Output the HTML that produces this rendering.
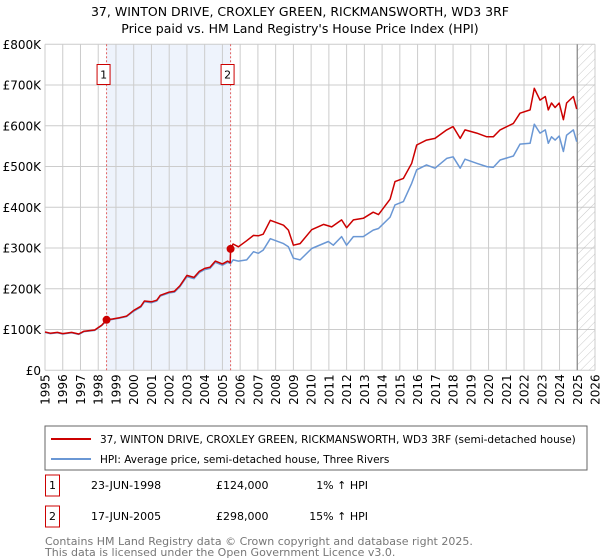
<!DOCTYPE html>
<html><head><meta charset="utf-8"><style>
body{margin:0;background:#fff;font-family:"Liberation Sans","DejaVu Sans",sans-serif;}
svg{display:block}
</style></head><body>
<svg width="600" height="560" viewBox="0 0 600 560" xmlns="http://www.w3.org/2000/svg" font-family="'DejaVu Sans','Liberation Sans',sans-serif">
<defs><pattern id="hatch" width="6" height="6" patternUnits="userSpaceOnUse" patternTransform="rotate(45)"><line x1="0" y1="0" x2="0" y2="6" stroke="#bbb" stroke-width="0.8"/></pattern></defs>
<text x="300" y="16" text-anchor="middle" font-size="12.5" fill="#000">37, WINTON DRIVE, CROXLEY GREEN, RICKMANSWORTH, WD3 3RF</text>
<text x="300" y="33" text-anchor="middle" font-size="12.5" fill="#000">Price paid vs. HM Land Registry's House Price Index (HPI)</text>
<g id="plot"></g>
<rect x="45" y="426" width="542" height="44" fill="#fff" stroke="#666"/>
<line x1="51" y1="439" x2="91" y2="439" stroke="#cc0000" stroke-width="2"/>
<text x="100" y="443" font-size="10.5">37, WINTON DRIVE, CROXLEY GREEN, RICKMANSWORTH, WD3 3RF (semi-detached house)</text>
<line x1="51" y1="459" x2="91" y2="459" stroke="#6a97d4" stroke-width="2"/>
<text x="100" y="463" font-size="10.5">HPI: Average price, semi-detached house, Three Rivers</text>
<g font-size="11">
<rect x="45.5" y="475" width="14" height="21" fill="#fff" stroke="#cc0000"/><text x="52.5" y="489" text-anchor="middle">1</text>
<text x="91" y="489">23-JUN-1998</text><text x="216" y="489">£124,000</text><text x="368" y="489" text-anchor="end">1% ↑ HPI</text>
<rect x="45.5" y="506" width="14" height="21" fill="#fff" stroke="#cc0000"/><text x="52.5" y="520" text-anchor="middle">2</text>
<text x="91" y="520">17-JUN-2005</text><text x="216" y="520">£298,000</text><text x="368" y="520" text-anchor="end">15% ↑ HPI</text>
</g>
<text x="45" y="545" font-size="11" fill="#777">Contains HM Land Registry data © Crown copyright and database right 2025.</text>
<text x="45" y="556" font-size="11" fill="#777">This data is licensed under the Open Government Licence v3.0.</text>
</svg>
<script>
const yTicks=[0,100,200,300,400,500,600,700,800];
const yTickLabels=["£0","£100K","£200K","£300K","£400K","£500K","£600K","£700K","£800K"];
const xYears=[1995,1996,1997,1998,1999,2000,2001,2002,2003,2004,2005,2006,2007,2008,2009,2010,2011,2012,2013,2014,2015,2016,2017,2018,2019,2020,2021,2022,2023,2024,2025,2026];
const hpiX=[1995.0,1995.3,1995.7,1996,1996.5,1996.9,1997.2,1997.8,1998.2,1998.47,1998.8,1999.2,1999.6,2000,2000.4,2000.6,2001,2001.3,2001.5,2002,2002.3,2002.6,2003,2003.4,2003.7,2004,2004.3,2004.6,2005,2005.3,2005.46,2005.6,2005.9,2006.37,2006.75,2007.03,2007.3,2007.7,2008.44,2008.72,2009.0,2009.38,2010.03,2010.97,2011.25,2011.72,2012.0,2012.38,2012.94,2013.5,2013.8,2014.45,2014.73,2015.2,2015.67,2015.95,2016.5,2016.98,2017.64,2018.0,2018.4,2018.67,2019.33,2019.9,2020.27,2020.65,2021.4,2021.77,2022.34,2022.58,2022.9,2023.2,2023.37,2023.55,2023.75,2023.98,2024.22,2024.4,2024.78,2024.97];
const hpiY=[93,90,92,89,92,88,95,98,110,122,125,128,132,145,155,168,166,170,182,190,192,205,230,225,240,247,250,265,258,265,262,271,268,271,291,287,295,323,311,303,275,271,299,316,307,328,307,328,328,344,348,376,406,414,459,492,504,496,520,524,496,518,508,500,498,516,526,555,557,604,582,590,557,573,565,575,537,577,590,561];
const ppX=[1995.0,1995.3,1995.7,1996,1996.5,1996.9,1997.2,1997.8,1998.2,1998.47,1998.8,1999.2,1999.6,2000,2000.4,2000.6,2001,2001.3,2001.5,2002,2002.3,2002.6,2003,2003.4,2003.7,2004,2004.3,2004.6,2005,2005.3,2005.44,2005.46,2005.6,2005.9,2006.37,2006.75,2007.03,2007.3,2007.7,2008.44,2008.72,2009.0,2009.38,2010.03,2010.7,2011.16,2011.72,2012.0,2012.38,2012.94,2013.5,2013.8,2014.45,2014.73,2015.2,2015.67,2015.95,2016.5,2016.98,2017.64,2018.0,2018.4,2018.67,2019.33,2019.9,2020.27,2020.65,2021.4,2021.77,2022.34,2022.58,2022.9,2023.2,2023.37,2023.55,2023.75,2023.98,2024.22,2024.4,2024.78,2024.97];
const ppY=[94,91,93,90,93,89,96,99,111,124,126,129,133,147,157,170,168,172,184,192,194,207,233,228,243,250,253,268,261,268,264,298,310,303,318,331,330,334,368,356,344,307,311,345,358,352,369,350,369,373,388,382,420,463,471,508,553,565,569,590,598,569,590,582,573,573,590,606,631,639,692,663,672,639,656,645,656,615,656,672,641];
const saleYears=[1998.47,2005.46];
const salePrices=[124,298];
const saleLabels=["1","2"];
const X0=45,X1=595,Y0=370.3,Y1=44.3;
const xs=y=>X0+(y-1995)/(2026-1995)*(X1-X0);
const ys=v=>Y0-(v/800)*(Y0-Y1);
const NS="http://www.w3.org/2000/svg";
const g=document.getElementById('plot');
function mk(tag,attrs){const e=document.createElementNS(NS,tag);for(const k in attrs)e.setAttribute(k,attrs[k]);g.appendChild(e);return e;}
let e;
e=mk('rect',{x:xs(saleYears[0]),y:Y1,width:xs(saleYears[1])-xs(saleYears[0]),height:Y0-Y1,fill:'#eef3fc'});


yTicks.forEach((t,i)=>{
 e=mk('line',{x1:X0,x2:X1,y1:ys(t),y2:ys(t),stroke:'#ccc','stroke-width':1});
 
 
 e=mk('text',{x:41,y:ys(t)+4.5,'text-anchor':'end','font-size':12});
 e.textContent=yTickLabels[i];
 
 
});
xYears.forEach(yr=>{
 e=mk('line',{x1:xs(yr),x2:xs(yr),y1:Y1,y2:Y0,stroke:'#ccc','stroke-width':1});
 
 
 const tx=xs(yr)+4.5, ty=Y0+4;
 e=mk('text',{x:tx,y:ty,'text-anchor':'end','font-size':12,transform:'rotate(-90 '+tx.toFixed(1)+' '+ty.toFixed(1)+')'});
 e.textContent=String(yr);
 
 
});
e=mk('rect',{x:xs(2025),y:Y1,width:X1-xs(2025),height:Y0-Y1,fill:'url(#hatch)'});


e=mk('line',{x1:xs(2025),x2:xs(2025),y1:Y1,y2:Y0,stroke:'#888','stroke-width':1.2});


saleYears.forEach((yr,i)=>{
 e=mk('line',{x1:xs(yr),x2:xs(yr),y1:Y1,y2:Y0,stroke:'#e06060','stroke-width':1,'stroke-dasharray':'2,2'});
 
 
});
function pathD(xa,ya){return xa.map((x,i)=>(i?'L':'M')+xs(x).toFixed(1)+','+ys(ya[i]).toFixed(1)).join('');}
e=mk('path',{d:pathD(hpiX,hpiY),fill:'none',stroke:'#6a97d4','stroke-width':1.5,'stroke-linejoin':'round'});


e=mk('path',{d:pathD(ppX,ppY),fill:'none',stroke:'#cc0000','stroke-width':1.5,'stroke-linejoin':'round'});


saleYears.forEach((yr,i)=>{
 e=mk('circle',{cx:xs(yr),cy:ys(salePrices[i]),r:4,fill:'#cc0000'});
 
 
 e=mk('rect',{x:xs(yr)-9.5,y:64.5,width:13,height:20,fill:'#fff',stroke:'#cc0000'});
 
 
 e=mk('text',{x:xs(yr)-3,y:78.5,'text-anchor':'middle','font-size':11});
 e.textContent=saleLabels[i];
 
 
});
</script>
</body></html>
